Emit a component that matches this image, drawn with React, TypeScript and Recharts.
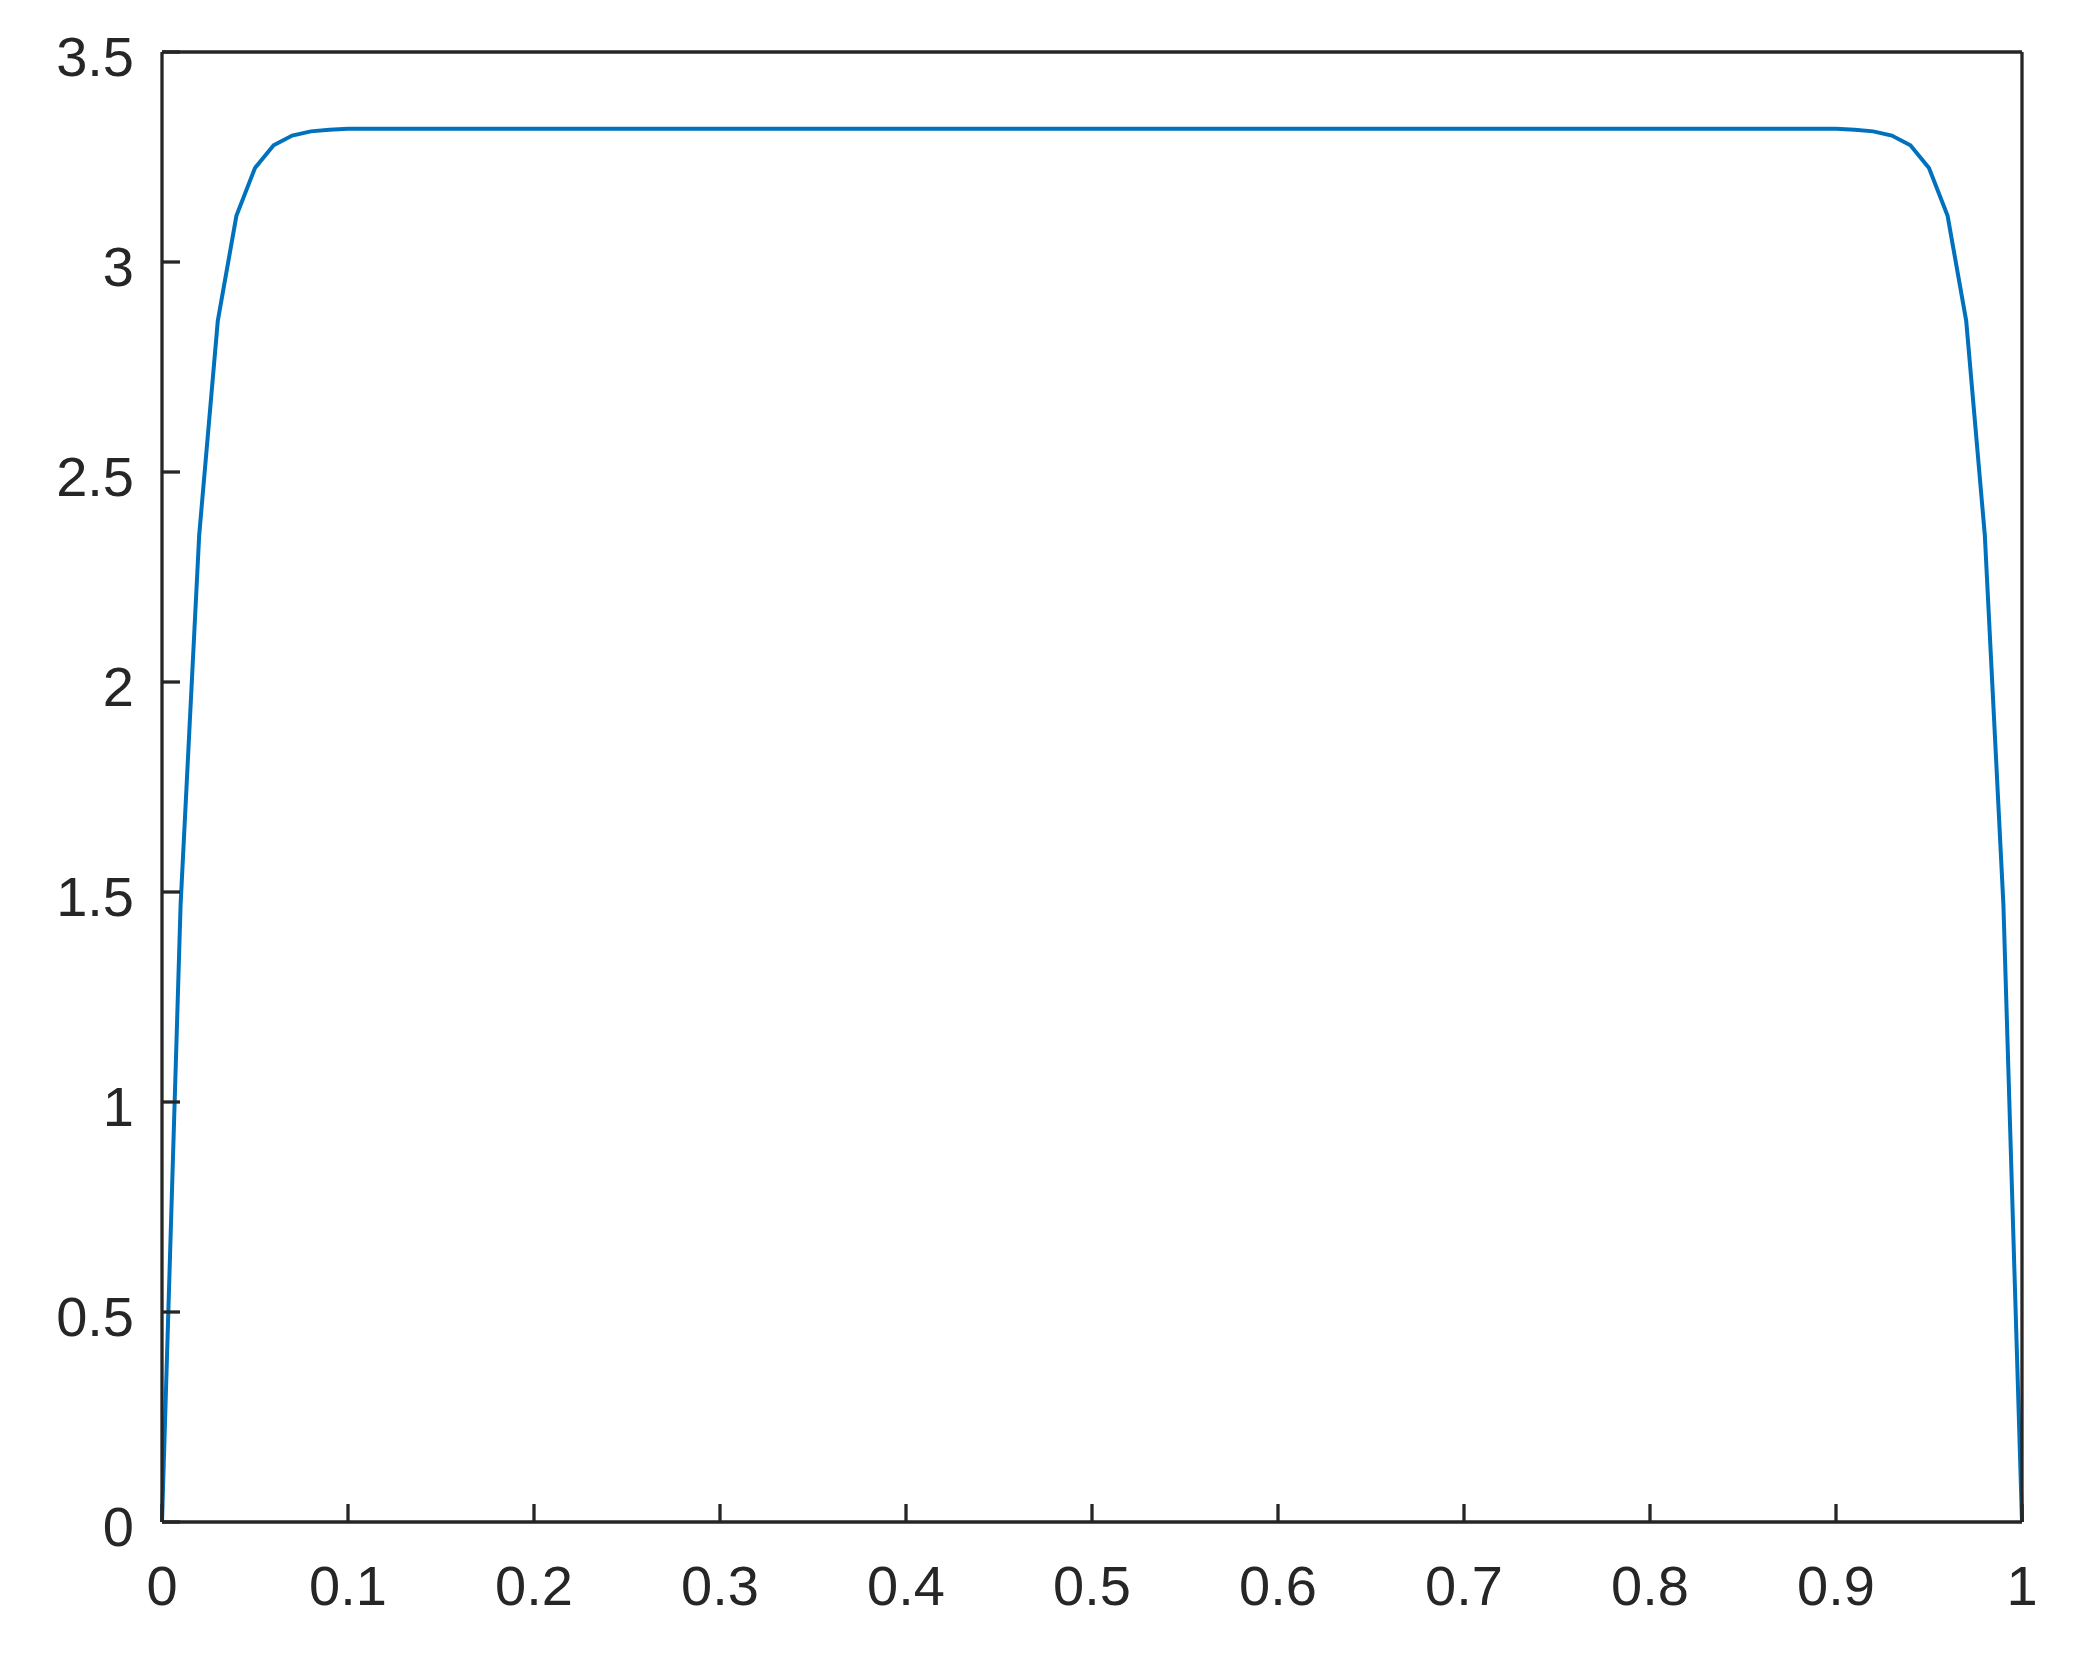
import { LineChart, Line, XAxis, YAxis } from 'recharts'

// sample positions along x (the flat middle section is a straight line)
const xPositions = [
  0, 0.01, 0.02, 0.03, 0.04, 0.05, 0.06, 0.07, 0.08, 0.09, 0.1,
  0.9, 0.91, 0.92, 0.93, 0.94, 0.95, 0.96, 0.97, 0.98, 0.99, 1,
]
const yValues = [
  0, 1.47, 2.35, 2.86, 3.11, 3.224, 3.278, 3.301, 3.311, 3.315, 3.317,
  3.317, 3.315, 3.311, 3.301, 3.278, 3.224, 3.11, 2.86, 2.35, 1.47, 0,
]

const xTicks = [0, 0.1, 0.2, 0.3, 0.4, 0.5, 0.6, 0.7, 0.8, 0.9, 1]
const yTicks = [0, 0.5, 1, 1.5, 2, 2.5, 3, 3.5]

const data = xPositions.map((x, i) => ({ x, y: yValues[i] }))

const AXIS_COLOR = '#262626'
const FONT = { fontFamily: '"Liberation Sans", Arial, sans-serif', fontSize: 56, fill: AXIS_COLOR }
const axisLine = { stroke: AXIS_COLOR, strokeWidth: 3.3 }
const tickLine = { stroke: AXIS_COLOR, strokeWidth: 3.3 }

const App = () => {
  return (
    <div style={{ position: 'absolute', left: 0, top: 0, width: 2085, height: 1665, background: '#fff' }}>
      <LineChart
        width={2085}
        height={1665}
        data={data}
        margin={{ top: 51, right: 62, left: 0, bottom: 0 }}
      >
        <XAxis
          dataKey="x"
          type="number"
          domain={[0, 1]}
          ticks={xTicks}
          tickFormatter={(v: number) => String(v)}
          height={143}
          tickSize={-18}
          tickMargin={61}
          tick={FONT}
          axisLine={axisLine}
          tickLine={tickLine}
          interval={0}
        />
        <XAxis
          xAxisId="top"
          orientation="top"
          dataKey="x"
          type="number"
          domain={[0, 1]}
          ticks={xTicks}
          height={1}
          tickSize={-18}
          tick={false}
          axisLine={axisLine}
          tickLine={tickLine}
          interval={0}
        />
        <YAxis
          type="number"
          domain={[0, 3.5]}
          ticks={yTicks}
          tickFormatter={(v: number) => String(v)}
          width={162}
          tickSize={-18}
          tickMargin={46}
          tick={{ ...FONT, dy: 4 }}
          axisLine={axisLine}
          tickLine={tickLine}
          interval={0}
        />
        <YAxis
          yAxisId="right"
          orientation="right"
          type="number"
          domain={[0, 3.5]}
          ticks={yTicks}
          width={1}
          tickSize={-18}
          tick={false}
          axisLine={axisLine}
          tickLine={tickLine}
          interval={0}
        />
        <Line
          type="linear"
          dataKey="y"
          stroke="#0072BD"
          strokeWidth={4}
          dot={false}
          activeDot={false}
          isAnimationActive={false}
        />
      </LineChart>
    </div>
  )
}

export default App
